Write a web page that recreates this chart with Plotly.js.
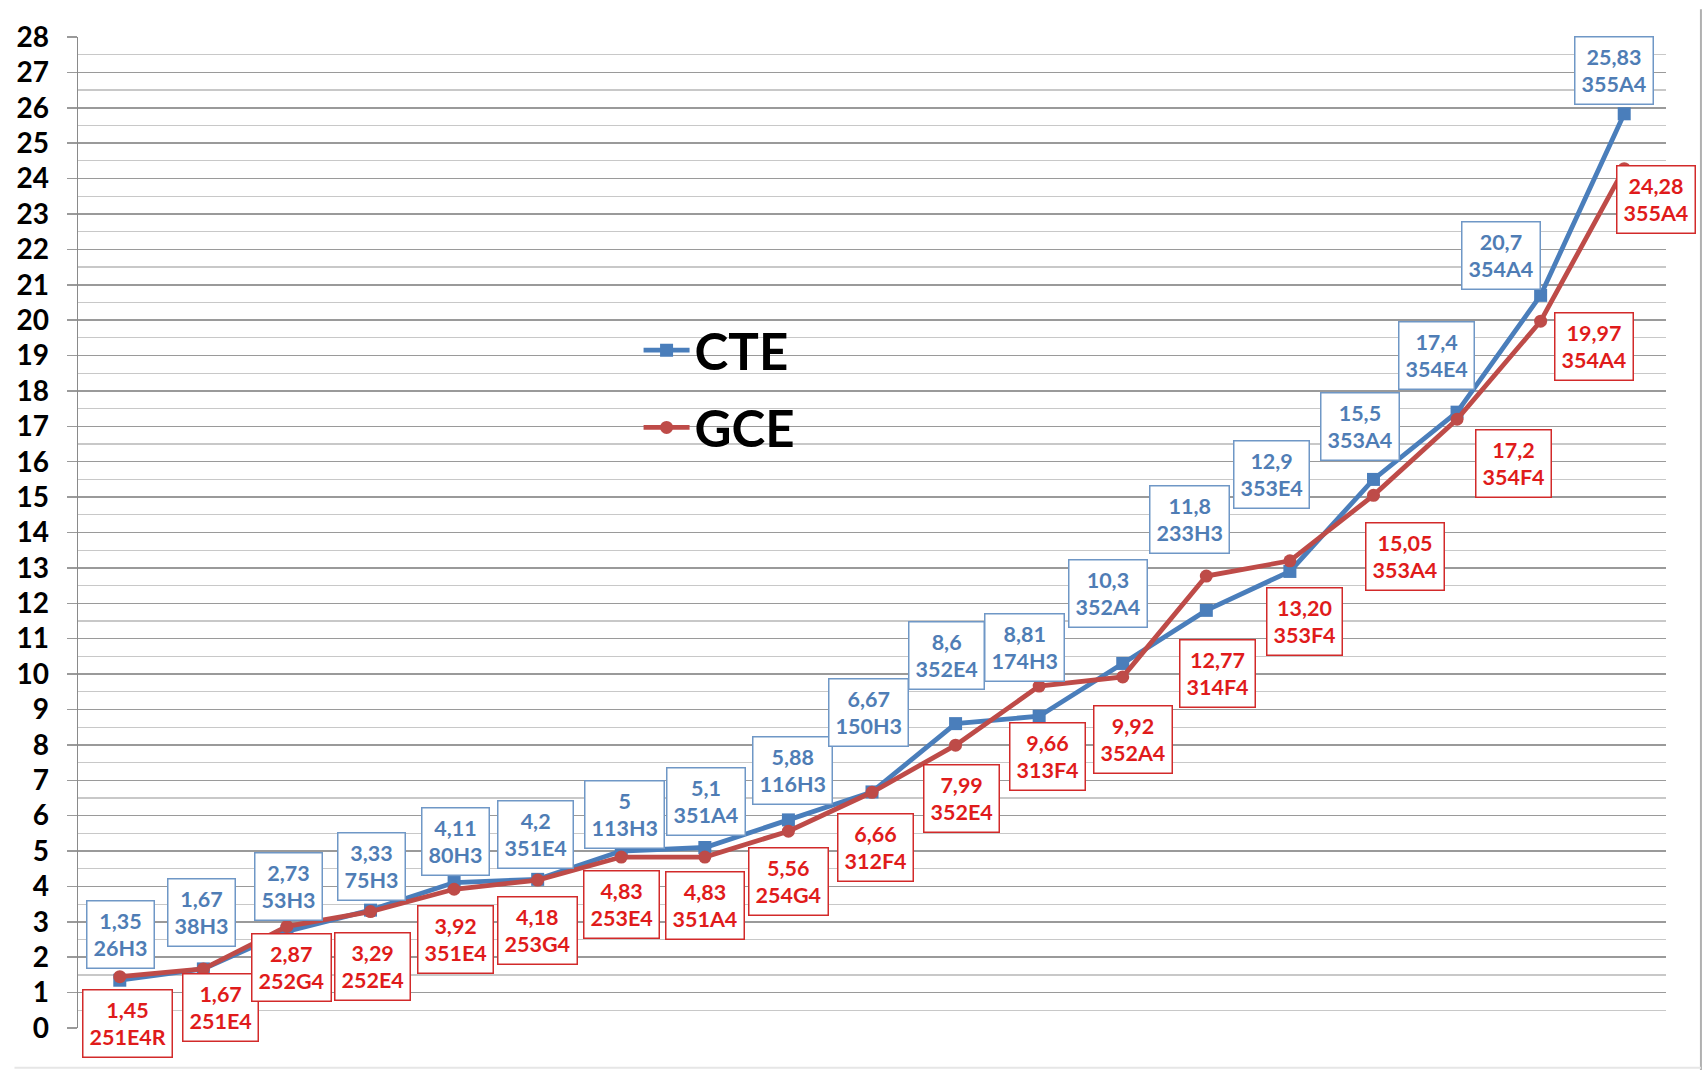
<!DOCTYPE html>
<html>
<head>
<meta charset="utf-8">
<script src="https://cdn.plot.ly/plotly-3.0.1.min.js"></script>
<style>html,body{margin:0;padding:0;background:#fff;}#chart{width:1706px;height:1070px;}</style>
</head>
<body>
<div id="chart"></div>
<script>
// ---- data ----
const categories = ["P1","P2","P3","P4","P5","P6","P7","P8","P9","P10","P11","P12","P13","P14","P15","P16","P17","P18","P19"];
const cteValues = [1.35, 1.67, 2.73, 3.33, 4.11, 4.2, 5, 5.1, 5.88, 6.67, 8.6, 8.81, 10.3, 11.8, 12.9, 15.5, 17.4, 20.7, 25.83];
const cteValueText = ["1,35","1,67","2,73","3,33","4,11","4,2","5","5,1","5,88","6,67","8,6","8,81","10,3","11,8","12,9","15,5","17,4","20,7","25,83"];
const cteCodes = ["26H3","38H3","53H3","75H3","80H3","351E4","113H3","351A4","116H3","150H3","352E4","174H3","352A4","233H3","353E4","353A4","354E4","354A4","355A4"];
const gceValues = [1.45, 1.67, 2.87, 3.29, 3.92, 4.18, 4.83, 4.83, 5.56, 6.66, 7.99, 9.66, 9.92, 12.77, 13.20, 15.05, 17.2, 19.97, 24.28];
const gceValueText = ["1,45","1,67","2,87","3,29","3,92","4,18","4,83","4,83","5,56","6,66","7,99","9,66","9,92","12,77","13,20","15,05","17,2","19,97","24,28"];
const gceCodes = ["251E4R","251E4","252G4","252E4","351E4","253G4","253E4","351A4","254G4","312F4","352E4","313F4","352A4","314F4","353F4","353A4","354F4","354A4","355A4"];
const seriesNames = ["CTE", "GCE"];

// ---- label box offsets (pixels, layout only) ----
const cteOffsets = [[1,-46],[-2,-56],[2,-45],[1,-44],[1,-41],[-2,-45],[3,-37],[1,-46],[4,-49],[-4,-79],[-9,-68],[-15,-69],[-15,-70],[-17,-91],[-18,-97],[-13,-53],[-21,-57],[-40,-40],[-10,-43]];
const gceOffsets = [[8,47],[17,39],[5,41],[2,55],[1,50],[0,50],[0,47],[0,48],[0,50],[3,55],[6,53],[8,70],[10,63],[11,97],[15,61],[32,61],[56,44],[53,25],[32,31]];

const FONT = "Lato, 'Liberation Sans', sans-serif";
const cteLine = "#4a7ebb", gceLine = "#be4b48";
const cteText = "#4f7db5", gceText = "#e01b1b";

const traces = [
  {x: categories, y: cteValues, name: seriesNames[0], legendgroup: "a", type: "scatter", mode: "lines+markers",
   line: {color: cteLine, width: 4.8}, marker: {symbol: "square", size: 13, color: cteLine}, cliponaxis: false},
  {x: categories, y: gceValues, name: seriesNames[1], legendgroup: "b", type: "scatter", mode: "lines+markers",
   line: {color: gceLine, width: 4.8}, marker: {symbol: "circle", size: 13, color: gceLine}, cliponaxis: false}
];

const annotations = [];
categories.forEach((c, i) => {
  annotations.push({x: c, y: cteValues[i], xref: "x", yref: "y", showarrow: false,
    text: cteValueText[i] + "<br>" + cteCodes[i], xshift: cteOffsets[i][0], yshift: -cteOffsets[i][1],
    font: {family: FONT, size: 21.5, color: cteText, weight: 700}, bgcolor: "#ffffff",
    bordercolor: "#6f97c6", borderwidth: 1.5, borderpad: 6, align: "center"});
});
categories.forEach((c, i) => {
  annotations.push({x: c, y: gceValues[i], xref: "x", yref: "y", showarrow: false,
    text: gceValueText[i] + "<br>" + gceCodes[i], xshift: gceOffsets[i][0], yshift: -gceOffsets[i][1],
    font: {family: FONT, size: 21.5, color: gceText, weight: 700}, bgcolor: "#ffffff",
    bordercolor: "#d22a2a", borderwidth: 1.5, borderpad: 6, align: "center"});
});

const layout = {
  width: 1706, height: 1070,
  margin: {l: 78, r: 40, t: 37, b: 42},
  paper_bgcolor: "#ffffff", plot_bgcolor: "#ffffff",
  showlegend: true,
  legend: {x: 0.353, y: 0.724, xanchor: "left", yanchor: "top", bgcolor: "rgba(0,0,0,0)",
    traceorder: "grouped", tracegroupgap: 8,
    font: {family: FONT, size: 51, color: "#000000", weight: 700}, itemwidth: 46},
  xaxis: {type: "category", range: [-0.5, 18.5], showticklabels: false, showgrid: false, zeroline: false,
    showline: false, ticks: "", fixedrange: true},
  yaxis: {range: [0, 28], dtick: 1, tick0: 0, showgrid: true, gridcolor: "#9a9a9a", gridwidth: 1.5,
    minor: {dtick: 0.5, showgrid: true, gridcolor: "#c8c8c8", gridwidth: 1.2},
    ticks: "outside", ticklen: 10, tickcolor: "#9a9a9a", tickwidth: 1.5,
    showline: true, linecolor: "#8a8a8a", linewidth: 1.5, zeroline: false,
    tickfont: {family: FONT, size: 28, color: "#000000", weight: 700}, ticklabelstandoff: 12},
  annotations: annotations,
  shapes: [
    {type: "line", xref: "paper", yref: "paper", x0: 1.022, x1: 1.022, y0: -0.045, y1: 1.028, line: {color: "#b0b0b0", width: 2}},
    {type: "line", xref: "paper", yref: "paper", x0: -0.04, x1: 1.022, y0: -0.04, y1: -0.04, line: {color: "#e6e6e6", width: 2}}
  ]
};

Plotly.newPlot("chart", traces, layout, {displayModeBar: false, staticPlot: true});
</script>
</body>
</html>
